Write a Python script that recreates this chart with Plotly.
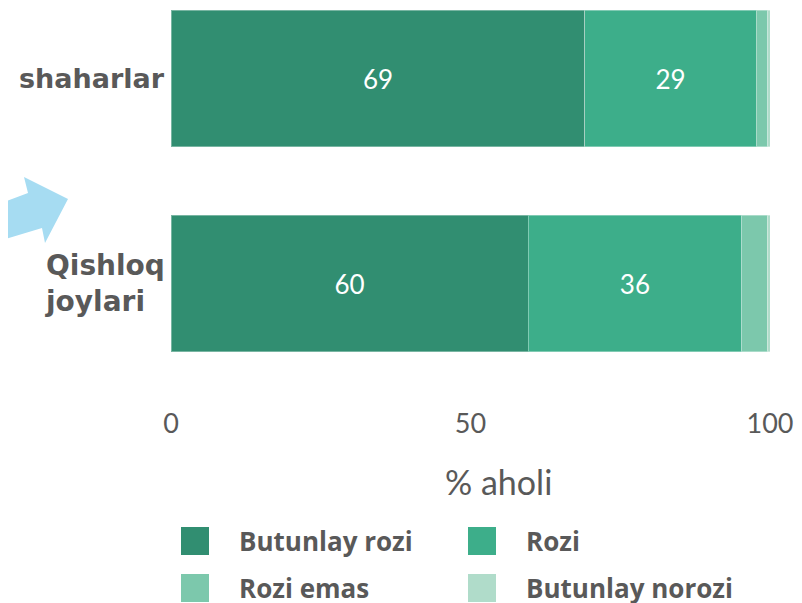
import plotly.graph_objects as go

# ---- data ----
categories = ["shaharlar", "Qishloq joylari"]
category_labels = ["shaharlar", "Qishloq<br>joylari"]
series_names = ["Butunlay rozi", "Rozi", "Rozi emas", "Butunlay norozi"]
butunlay_rozi = [69.1, 59.6]
rozi = [28.6, 35.7]
rozi_emas = [1.9, 4.2]
butunlay_norozi = [0.4, 0.5]
bar_text_butunlay_rozi = ["69", "60"]
bar_text_rozi = ["29", "36"]
x_ticks = [0, 50, 100]
x_title = "% aholi"

series_values = [butunlay_rozi, rozi, rozi_emas, butunlay_norozi]
series_text = [bar_text_butunlay_rozi, bar_text_rozi, None, None]
colors = ["#318E71", "#3DAE8A", "#7CC8AC", "#B0DCCA"]

# page body has an 8px margin; figure is sized/offset to compensate
OFF = 8
W, H = 802 - OFF, 603 - OFF
L, R, T, B = 171 - OFF, 32, 0, 203
PW, PH = W - L - R, H - T - B


def px(xp):  # reference page x -> paper
    return (xp - OFF - L) / PW


def py(yp):  # reference page y -> paper
    return (T + PH - (yp - OFF)) / PH


fig = go.Figure()
for name, vals, txt, col in zip(series_names, series_values, series_text, colors):
    fig.add_trace(go.Bar(
        y=categories, x=vals, name=name, orientation="h",
        marker=dict(color=col, line=dict(color="rgba(255,255,255,0.35)", width=1)),
        text=txt, textposition="inside" if txt else "none",
        insidetextanchor="middle", textangle=0,
        textfont=dict(family="Lato", size=26, color="white"),
        width=0.668, showlegend=False, hoverinfo="x+name",
    ))

annotations = []
shapes = []

# category labels
annotations.append(dict(text=category_labels[0], xref="paper", yref="y", x=px(167), y=categories[0],
                        xanchor="right", yanchor="middle", showarrow=False, align="right",
                        font=dict(family="DejaVu Sans", size=27, color="#595959", weight="bold")))
annotations.append(dict(text=category_labels[1], xref="paper", yref="y", x=px(43), y=categories[1],
                        xanchor="left", yanchor="middle", showarrow=False, align="left",
                        font=dict(family="DejaVu Sans", size=28, color="#595959", weight="bold")))

# x-axis title
annotations.append(dict(text=x_title, xref="paper", yref="paper", x=px(498), y=py(481),
                        xanchor="center", yanchor="middle", showarrow=False,
                        font=dict(family="Lato", size=34, color="#595959")))

# custom legend
leg_sq_x = [181, 468]
leg_txt_x = [237, 524]
leg_row_y = [541, 588]
for i, (name, col) in enumerate(zip(series_names, colors)):
    c, r = i % 2, i // 2
    cy = leg_row_y[r]
    shapes.append(dict(type="rect", xref="paper", yref="paper",
                       x0=px(leg_sq_x[c]), x1=px(leg_sq_x[c] + 28),
                       y0=py(cy - 14), y1=py(cy + 14),
                       fillcolor=col, line=dict(width=0)))
    annotations.append(dict(text=name, xref="paper", yref="paper", x=px(leg_txt_x[c]), y=py(cy),
                            xanchor="left", yanchor="middle", showarrow=False,
                            font=dict(family="Open Sans", size=26, color="#595959", weight="bold")))

# decorative arrow
arrow_pts = [(-4, 205), (28, 193), (24, 177), (68, 199), (45, 243), (42, 228), (-4, 242)]
path = "M " + " L ".join(f"{px(a)},{py(b)}" for a, b in arrow_pts) + " Z"
shapes.append(dict(type="path", xref="paper", yref="paper", path=path,
                   fillcolor="#A6DCF2", line=dict(width=0), layer="above"))

# y range: 205 px per category, shaharlar centred at reference y=78.5
top_val = -(78.5 - OFF) / 205
bot_val = 1 + (PH - (283.5 - OFF)) / 205

fig.update_layout(
    width=W, height=H, barmode="stack",
    margin=dict(l=L, r=R, t=T, b=B, pad=0),
    plot_bgcolor="white", paper_bgcolor="white",
    xaxis=dict(range=[0, 100], tickvals=x_ticks, ticktext=[str(v) for v in x_ticks],
               showgrid=False, zeroline=False, showline=False, ticks="",
               ticklabelstandoff=5,
               tickfont=dict(family="Lato", size=27, color="#595959")),
    yaxis=dict(categoryorder="array", categoryarray=categories,
               range=[bot_val, top_val], showticklabels=False,
               showgrid=False, zeroline=False, showline=False, ticks=""),
    annotations=annotations, shapes=shapes,
)

fig.write_html("out.html")
